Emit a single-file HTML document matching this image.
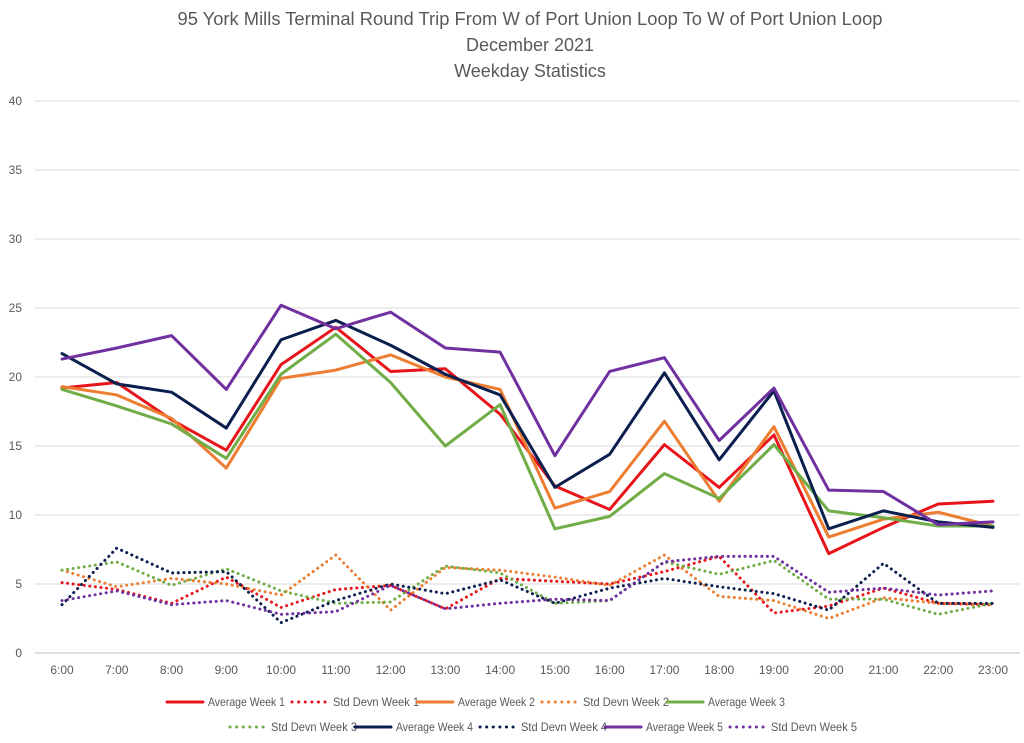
<!DOCTYPE html>
<html><head><meta charset="utf-8"><style>
body{margin:0;background:#fff;}
svg{display:block;font-family:"Liberation Sans",sans-serif;}
</style></head><body>
<svg id="chart" width="1024" height="743" viewBox="0 0 1024 743">
<g fill="#595959" font-size="18" text-anchor="middle">
<text x="530" y="25" textLength="705" lengthAdjust="spacingAndGlyphs">95 York Mills Terminal Round Trip From W of Port Union Loop To W of Port Union Loop</text>
<text x="530" y="51">December 2021</text>
<text x="530" y="77">Weekday Statistics</text>
</g>
<g id="grid"></g><g id="axes"></g><g id="series"></g><g id="legend"></g>
</svg>
<script>
const categories=["6:00","7:00","8:00","9:00","10:00","11:00","12:00","13:00","14:00","15:00","16:00","17:00","18:00","19:00","20:00","21:00","22:00","23:00"];
const yTicks=[0,5,10,15,20,25,30,35,40];
const avgW1=[19.2,19.6,16.9,14.7,20.9,23.6,20.4,20.6,17.3,12.1,10.4,15.1,12.0,15.8,7.2,9.1,10.8,11.0];
const sdW1=[5.1,4.6,3.6,5.5,3.3,4.6,4.9,3.2,5.4,5.2,5.0,5.9,7.0,2.9,3.4,4.7,3.6,3.5];
const avgW2=[19.3,18.7,17.0,13.4,19.9,20.5,21.6,20.0,19.1,10.5,11.7,16.8,11.0,16.4,8.4,9.7,10.2,9.2];
const sdW2=[6.0,4.8,5.4,5.0,4.2,7.1,3.1,6.2,6.0,5.5,4.9,7.1,4.1,3.8,2.5,4.0,3.6,3.5];
const avgW3=[19.1,17.9,16.6,14.1,20.2,23.1,19.6,15.0,18.0,9.0,9.9,13.0,11.2,15.1,10.3,9.8,9.2,9.2];
const sdW3=[6.0,6.6,4.9,6.1,4.5,3.6,3.7,6.3,5.8,3.6,3.8,6.6,5.7,6.7,3.9,3.9,2.8,3.6];
const avgW4=[21.7,19.5,18.9,16.3,22.7,24.1,22.3,20.2,18.7,12.0,14.4,20.3,14.0,19.0,9.0,10.3,9.5,9.1];
const sdW4=[3.5,7.6,5.8,5.9,2.2,3.8,5.0,4.3,5.3,3.6,4.7,5.4,4.8,4.3,3.1,6.5,3.6,3.6];
const avgW5=[21.3,22.1,23.0,19.1,25.2,23.5,24.7,22.1,21.8,14.3,20.4,21.4,15.4,19.2,11.8,11.7,9.3,9.5];
const sdW5=[3.8,4.5,3.5,3.8,2.8,3.0,4.9,3.2,3.6,3.9,3.8,6.6,7.0,7.0,4.4,4.7,4.2,4.5];
const seriesNames=["Average Week 1","Std Devn Week 1","Average Week 2","Std Devn Week 2","Average Week 3","Std Devn Week 3","Average Week 4","Std Devn Week 4","Average Week 5","Std Devn Week 5"];
const seriesData=[avgW1,sdW1,avgW2,sdW2,avgW3,sdW3,avgW4,sdW4,avgW5,sdW5];
const colors=["#e8141b","#e8141b","#ed7d31","#ed7d31","#70ad47","#70ad47","#0b1f4f","#0b1f4f","#7030a0","#7030a0"];
const NS="http://www.w3.org/2000/svg";
const x0=62,xStep=(993-62)/17,yBase=653,yTop=101,yMax=40;
const X=i=>x0+i*xStep;
const Y=v=>yBase-(v/yMax)*(yBase-yTop);
function mk(tag,attrs,parent){const e=document.createElementNS(NS,tag);for(const k in attrs)e.setAttribute(k,attrs[k]);parent.appendChild(e);return e;}
const grid=document.getElementById('grid'),axes=document.getElementById('axes'),ser=document.getElementById('series'),leg=document.getElementById('legend');
yTicks.forEach(t=>{
 const l=mk('line',{x1:35,x2:1020,y1:Y(t),y2:Y(t),stroke:t===0?'#bfbfbf':'#d9d9d9','stroke-width':1},grid);
 
 
 const tx=mk('text',{x:22,y:Y(t)+4,'text-anchor':'end','font-size':12,fill:'#595959'},axes);
 tx.textContent=t;
 
 
});
categories.forEach((c,i)=>{
 const tx=mk('text',{x:X(i),y:674,'text-anchor':'middle','font-size':12,fill:'#595959'},axes);
 tx.textContent=c;
 
 
});
seriesData.forEach((d,s)=>{
 const dotted=s%2===1;
 const p=mk('polyline',{points:d.map((v,i)=>X(i)+','+Y(v)).join(' '),fill:'none',stroke:colors[s],'stroke-width':3,'stroke-linejoin':'round','stroke-linecap':'round'},ser);
 if(dotted){p.setAttribute('stroke-dasharray','0.1 5.5');}
 
 
});
seriesNames.forEach((n,s)=>{
 const row=s<5?0:1;
 const col=row===0?s:s-5;
 const lx=(row===0?165:228)+col*125, ly=row===0?702:727;
 const g=mk('g',{},leg);
 
 
 const l=mk('line',{x1:lx+2,x2:lx+38,y1:ly,y2:ly,stroke:colors[s],'stroke-width':3,'stroke-linecap':'round'},g);
 if(s%2===1)l.setAttribute('stroke-dasharray','0.1 6.5');
 const w=s%2===1?86:77;
 const t=mk('text',{x:lx+43,y:ly+4,'font-size':12,fill:'#595959',textLength:w,lengthAdjust:'spacingAndGlyphs'},g);
 t.textContent=n;
});
</script>
</body></html>
